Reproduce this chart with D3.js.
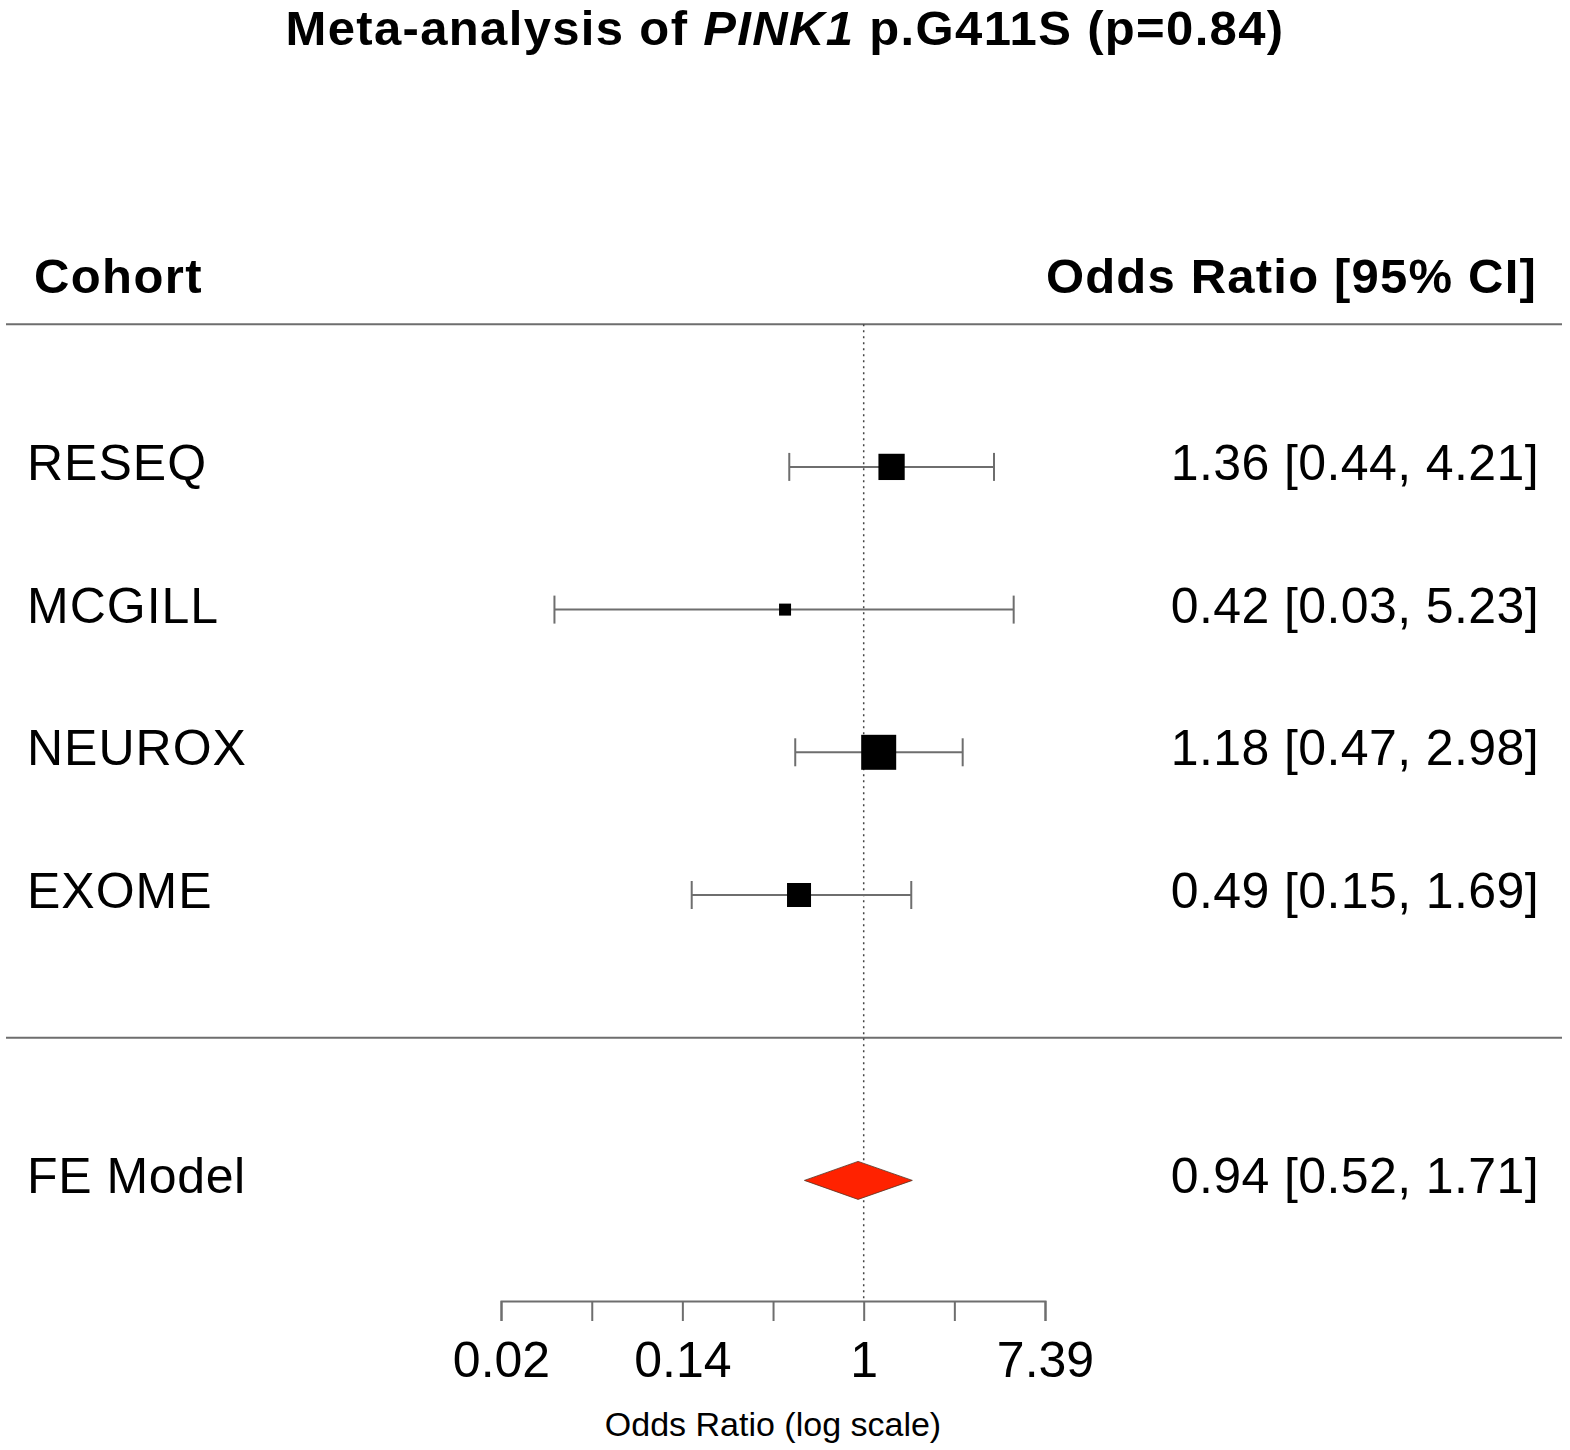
<!DOCTYPE html>
<html>
<head>
<meta charset="utf-8">
<script src="https://cdn.jsdelivr.net/npm/d3@7/dist/d3.min.js"></script>
<style>
  html, body { margin: 0; padding: 0; background: #fff; }
  svg { display: block; font-family: "Liberation Sans", Arial, sans-serif; }
</style>
</head>
<body>
<svg id="chart" width="1570" height="1450"></svg>
<script>
// ---- data ----
const cohorts = ["RESEQ", "MCGILL", "NEUROX", "EXOME"];
const oddsRatio = [1.36, 0.42, 1.18, 0.49];
const ciLower = [0.44, 0.033, 0.47, 0.15];
const ciUpper = [4.21, 5.23, 2.98, 1.69];
const weightPct = [28.1, 5.4, 42.0, 24.5];
const summaryLabel = "FE Model";
const summaryOR = 0.94;
const summaryLower = 0.52;
const summaryUpper = 1.71;
const tickValues = [0.0183, 0.0498, 0.1353, 0.3679, 1, 2.7183, 7.3891];
const tickLabels = ["0.02", "", "0.14", "", "1", "", "7.39"];

// ---- layout ----
const svg = d3.select("#chart");
const x = d3.scaleLog().base(Math.E).domain([tickValues[0], tickValues[tickValues.length - 1]]).range([501, 1045]);
const k = cohorts.length;
const y = d3.scaleLinear().domain([1, 0]).range([895, 1037.7]); // row -> y
const size = d3.scaleLinear().domain([d3.min(weightPct), d3.max(weightPct)]).range([12, 35]);
const fmt = d3.format(".2f");
const lineGray = "#6e6e6e";

// title
const title = svg.append("text")
  .attr("x", 785).attr("y", 45)
  .attr("text-anchor", "middle")
  .attr("font-size", 49).attr("font-weight", "bold")
  .attr("letter-spacing", 1.35);
title.append("tspan").text("Meta-analysis of ");
title.append("tspan").attr("font-style", "italic").text("PINK1");
title.append("tspan").text(" p.G411S (p=0.84)");

// headers
svg.append("text").attr("x", 34).attr("y", 293)
  .attr("font-size", 49).attr("font-weight", "bold").attr("letter-spacing", 1.4).text("Cohort");
svg.append("text").attr("x", 1537).attr("y", 293).attr("text-anchor", "end")
  .attr("font-size", 49).attr("font-weight", "bold").attr("letter-spacing", 1.2).text("Odds Ratio [95% CI]");

// horizontal separator lines
[k + 1, 0].forEach(r => {
  svg.append("line")
    .attr("x1", 6).attr("x2", 1562)
    .attr("y1", y(r)).attr("y2", y(r))
    .attr("stroke", lineGray).attr("stroke-width", 2);
});

// reference line at OR = 1
svg.append("line")
  .attr("x1", x(1)).attr("x2", x(1))
  .attr("y1", y(k + 1)).attr("y2", 1301)
  .attr("stroke", "#444").attr("stroke-width", 1.5)
  .attr("stroke-dasharray", "2,4");

// study rows
const rows = cohorts.map((c, i) => ({
  name: c, or: oddsRatio[i], lo: ciLower[i], hi: ciUpper[i], w: weightPct[i], row: k - i
}));

const g = svg.append("g");
rows.forEach(d => {
  const yy = y(d.row);
  g.append("line").attr("x1", x(d.lo)).attr("x2", x(d.hi)).attr("y1", yy).attr("y2", yy)
    .attr("stroke", lineGray).attr("stroke-width", 2);
  [d.lo, d.hi].forEach(v => {
    g.append("line").attr("x1", x(v)).attr("x2", x(v)).attr("y1", yy - 14).attr("y2", yy + 14)
      .attr("stroke", lineGray).attr("stroke-width", 2);
  });
  const s = size(d.w);
  g.append("rect").attr("x", x(d.or) - s / 2).attr("y", yy - s / 2)
    .attr("width", s).attr("height", s).attr("fill", "#000");
  g.append("text").attr("x", 27).attr("y", yy + 13).attr("font-size", 50)
    .attr("letter-spacing", 1).text(d.name);
  g.append("text").attr("x", 1539).attr("y", yy + 13).attr("text-anchor", "end")
    .attr("font-size", 50).attr("letter-spacing", 0.4)
    .text(`${fmt(d.or)} [${fmt(d.lo)}, ${fmt(d.hi)}]`);
});

// summary diamond
const ys = y(-1);
svg.append("path")
  .attr("d", `M${x(summaryLower)},${ys} L${x(summaryOR)},${ys - 19} L${x(summaryUpper)},${ys} L${x(summaryOR)},${ys + 19} Z`)
  .attr("fill", "#ff2200").attr("stroke", "#553322").attr("stroke-width", 0.8);
svg.append("text").attr("x", 27).attr("y", ys + 13).attr("font-size", 50)
  .attr("letter-spacing", 0.6).text(summaryLabel);
svg.append("text").attr("x", 1539).attr("y", ys + 13).attr("text-anchor", "end")
  .attr("font-size", 50).attr("letter-spacing", 0.4)
  .text(`${fmt(summaryOR)} [${fmt(summaryLower)}, ${fmt(summaryUpper)}]`);

// x axis
const axis = d3.axisBottom(x)
  .tickValues(tickValues)
  .tickFormat((d, i) => tickLabels[i])
  .tickSizeOuter(0)
  .tickSize(20);
const ax = svg.append("g").attr("transform", "translate(0,1301)").call(axis);
ax.select(".domain").attr("stroke", lineGray).attr("stroke-width", 2);
ax.selectAll(".tick line").attr("stroke", lineGray).attr("stroke-width", 2);
ax.selectAll(".tick text")
  .attr("y", 76).attr("dy", 0)
  .attr("font-size", 50).attr("fill", "#000")
  .attr("font-family", "Liberation Sans, Arial, sans-serif");

svg.append("text").attr("x", 773).attr("y", 1436).attr("text-anchor", "middle")
  .attr("font-size", 34).text("Odds Ratio (log scale)");
</script>
</body>
</html>
